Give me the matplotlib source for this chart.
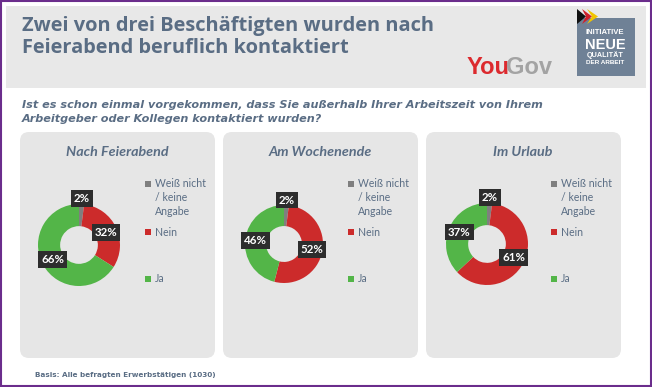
import matplotlib
matplotlib.use("Agg")
import matplotlib.pyplot as plt
from matplotlib.patches import FancyBboxPatch, Rectangle, Polygon
import numpy as np

# ---------------- data ----------------
panel_titles = ["Nach Feierabend", "Am Wochenende", "Im Urlaub"]
legend_labels = ["Weiß nicht\n/ keine\nAngabe", "Nein", "Ja"]
weiss_nicht = [2, 2, 2]
nein = [32, 52, 61]
ja = [66, 46, 37]

title = "Zwei von drei Beschäftigten wurden nach\nFeierabend beruflich kontaktiert"
subtitle = ("Ist es schon einmal vorgekommen, dass Sie außerhalb Ihrer Arbeitszeit von Ihrem\n"
            "Arbeitgeber oder Kollegen kontaktiert wurden?")
footer = "Basis: Alle befragten Erwerbstätigen (1030)"

# ---------------- style ----------------
W, H = 652, 387
FONT = ["Lato", "DejaVu Sans"]
TXT = "#5a6d84"
COLORS = ["#7f7f7f", "#cc2b2b", "#53b548"]
PANEL_BG = "#e6e6e6"

fig = plt.figure(figsize=(W / 100, H / 100), dpi=100)
fig.patch.set_facecolor("white")
bg = fig.add_axes([0, 0, 1, 1])
bg.set_xlim(0, W)
bg.set_ylim(H, 0)
bg.axis("off")

# outer border
bg.add_patch(Rectangle((0.8, 0.8), W - 1.6, H - 1.6, fill=False, ec="#6b2d8c", lw=1.5))

# header
bg.add_patch(Rectangle((6, 6), 640, 82, fc="#e8e8e8", ec="none"))
bg.text(22, 37, title, family=["Open Sans", "DejaVu Sans"], weight="bold", fontsize=14.4,
        color=TXT, va="center", ha="left", linespacing=1.08)

# YouGov logo
bg.text(467, 67, "You", family=["Liberation Sans"], weight="bold", fontsize=17,
        color="#dc2a2e", va="center", ha="left")
bg.text(506, 67, "Gov", family=["Liberation Sans"], weight="bold", fontsize=17,
        color="#a3a3a3", va="center", ha="left")

# Initiative logo
bg.add_patch(Rectangle((577, 18), 58, 58, fc="#6f8196", ec="none"))
bg.add_patch(Polygon([[577, 9], [586, 16.5], [577, 24]], closed=True, fc="#111111", ec="none"))
bg.add_patch(Polygon([[582, 9], [592, 16.5], [582, 24], [586, 16.5]], closed=True,
                     fc="#d0202a", ec="none"))
bg.add_patch(Polygon([[587, 9], [598, 16.5], [587, 24], [592, 16.5]], closed=True,
                     fc="#f1c400", ec="none"))
bg.text(605, 33, "INITIATIVE", family=["Liberation Sans"], fontsize=5.6, color="white",
        ha="center", va="center", weight="bold")
bg.text(605, 45, "NEUE", family=["Liberation Sans"], fontsize=10.5, color="white",
        ha="center", va="center", weight="bold")
bg.text(605, 55.5, "QUALITÄT", family=["Liberation Sans"], fontsize=5.2, color="white",
        ha="center", va="center", weight="bold")
bg.text(605, 63, "DER ARBEIT", family=["Liberation Sans"], fontsize=4.6, color="white",
        ha="center", va="center", weight="bold")

# subtitle
bg.text(22, 112, subtitle, family=["DejaVu Sans"], weight="bold", style="italic",
        fontsize=8.1, color=TXT, va="center", ha="left", linespacing=1.45)

# footer
bg.text(35, 375, footer, family=["DejaVu Sans"], weight="bold", fontsize=5.25, color=TXT,
        va="center", ha="left")

# panels
panel_x = [20, 223, 426]
panel_w = 195
panel_y0, panel_y1 = 132, 358
centers = [(79, 245), (284, 244), (487, 244)]
radii = [41, 39, 41]

for i in range(3):
    px = panel_x[i]
    bg.add_patch(FancyBboxPatch((px, panel_y0), panel_w, panel_y1 - panel_y0,
                                boxstyle="round,pad=0,rounding_size=9",
                                fc=PANEL_BG, ec="none"))
    bg.text(px + 97, 152, panel_titles[i], family=FONT, weight="bold", style="italic",
            fontsize=10.3, color=TXT, ha="center", va="center")

    # legend
    rows_y = [184, 232, 279]
    for k in range(3):
        bg.add_patch(Rectangle((px + 125, rows_y[k] - 3), 5.5, 5.5, fc=COLORS[k], ec="none"))
    bg.text(px + 135, rows_y[0] - 6, legend_labels[0], family=FONT, fontsize=7.6,
            color=TXT, ha="left", va="top", linespacing=1.32)
    bg.text(px + 135, rows_y[1], legend_labels[1], family=FONT, fontsize=7.6,
            color=TXT, ha="left", va="center")
    bg.text(px + 135, rows_y[2], legend_labels[2], family=FONT, fontsize=7.6,
            color=TXT, ha="left", va="center")

    # donut
    vals = [weiss_nicht[i], nein[i], ja[i]]
    cx, cy = centers[i]
    R = radii[i]
    lim = 1.45
    S = 2 * R * lim
    ax = fig.add_axes([(cx - S / 2) / W, (H - cy - S / 2) / H, S / W, S / H])
    ax.pie(vals, colors=COLORS, startangle=90, counterclock=False, radius=1,
           wedgeprops=dict(width=0.54, edgecolor="none"))
    ax.set_xlim(-lim, lim)
    ax.set_ylim(-lim, lim)
    ax.set_aspect("equal")
    ax.axis("off")
    total = float(sum(vals))
    cum = 0.0
    for v in vals:
        mid = (cum + v / 2) / total * 2 * np.pi
        cum += v
        r = 0.73 if v >= 5 else 1.13
        ax.text(r * np.sin(mid), r * np.cos(mid), f"{v}%", family=FONT, weight="bold",
                fontsize=8.3, color="white", ha="center", va="center", zorder=5,
                bbox=dict(boxstyle="square,pad=0.25", fc="#2d2d2d", ec="none"),
                clip_on=False)

fig.savefig("out.png", dpi=100, facecolor="white")
